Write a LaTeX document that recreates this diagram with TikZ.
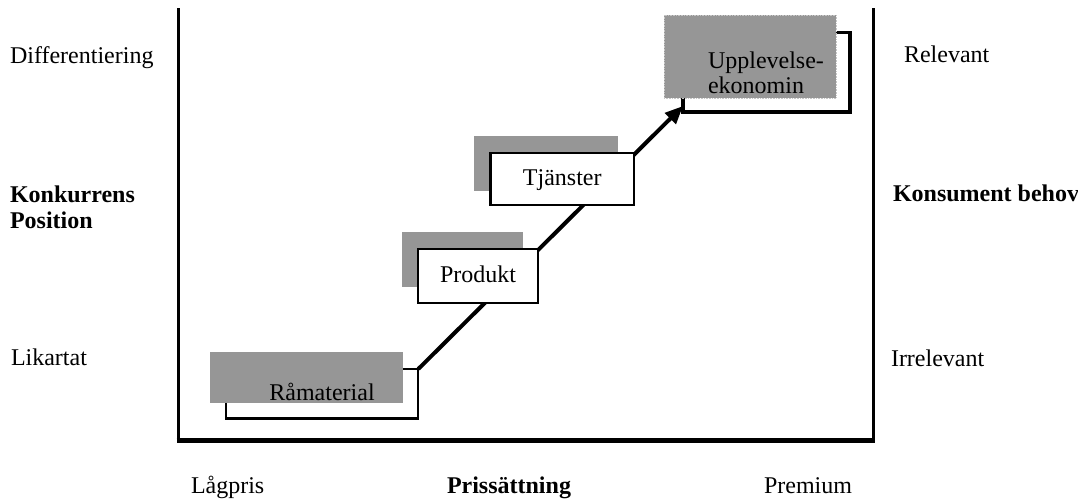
\documentclass[tikz,border=0pt]{standalone}
\usepackage{fontspec}
\setmainfont{Liberation Serif}
\usetikzlibrary{arrows.meta,calc}
\definecolor{shadowgray}{RGB}{150,150,150}
\begin{document}
\begin{tikzpicture}[x=1pt,y=-1pt,
  txt/.style={inner sep=0pt, outer sep=0pt, font=\fontsize{24}{25.5}\selectfont},
  lab/.style={txt, anchor=base west},
  whitebox/.style={draw, fill=white, line width=#1, outer sep=0pt, inner sep=0pt,
    font=\fontsize{24}{25.5}\selectfont, text height=17pt, text depth=5pt},
  graybox/.style={fill=shadowgray, outer sep=0pt, inner sep=0pt},
  axisline/.style={line width=3.8pt},
  flow/.style={line width=4pt, -{Triangle[length=18pt,width=15pt]}}
]
\useasboundingbox (0,0) rectangle (1078,499);

% axes frame
\draw[axisline] (178.5,8) -- (178.5,440);
\draw[axisline] (873.5,8) -- (873.5,440);
\draw[line width=5pt] (176.6,440) -- (875.4,440);

% Raamaterial
\node[whitebox=2.2pt, minimum width=192.3pt, minimum height=49.5pt] (ram) at (322.15,393.75) {};
\node[graybox, minimum width=193pt, minimum height=51pt] (ramg) at (306.5,377.5) {};
\node[txt, anchor=base] (ramtxt) at (322,400) {Råmaterial};

% shadows of Produkt and Tjanster
\node[graybox, minimum width=121pt, minimum height=55pt] (prodg) at (462.5,259.5) {};
\node[graybox, minimum width=144pt, minimum height=55pt] (tjg) at (546,163.5) {};

% Upplevelse-ekonomin
\node[whitebox=3.8pt, minimum width=167pt, minimum height=79.5pt] (upp) at (766.5,72.25) {};
\node[graybox, draw=gray!45, line width=0.6pt, densely dotted, minimum width=172pt, minimum height=83pt] (uppg) at (750,56.5) {};
\node[txt, anchor=north west, align=left] (upptxt) at (708,51.6) {Upplevelse-\\ekonomin};

% arrow
\coordinate (tip) at ($(upp.south west)+(0,-6)$);
\draw[flow] (ram.north east) -- (tip);

% Produkt and Tjanster boxes
\node[whitebox=2.4pt, minimum width=120pt, minimum height=54pt] (prod) at (478,276) {Produkt};
\node[whitebox=2.6pt, minimum width=143.5pt, minimum height=52pt] (tj) at (562.25,179) {Tjänster};

% left labels
\node[lab] (diff) at (10,63) {Differentiering};
\node[txt, anchor=north west, align=left] (konk) at (10,186) {\textbf{Konkurrens}\\\textbf{Position}};
\node[lab] (lik) at (11,365) {Likartat};

% right labels
\node[lab] (rel) at (904,62) {Relevant};
\node[lab] (kons) at (893,201) {\textbf{Konsument behov}};
\node[lab] (irr) at (891,366) {Irrelevant};

% bottom labels
\node[lab] (lag) at (191,493) {Lågpris};
\node[lab] (pris) at (447,493) {\textbf{Prissättning}};
\node[lab] (prem) at (764,493) {Premium};
\end{tikzpicture}
\end{document}
